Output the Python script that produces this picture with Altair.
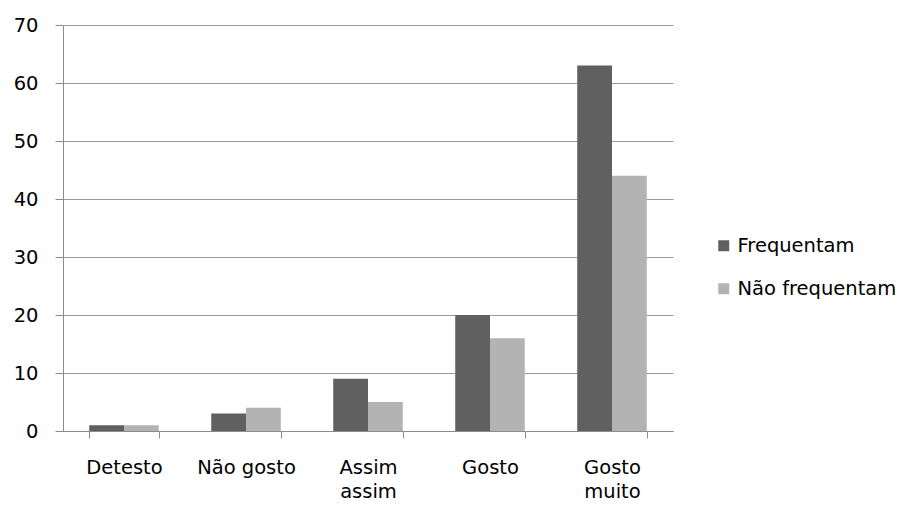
import altair as alt
import pandas as pd

categories = ["Detesto", "Não gosto", "Assim assim", "Gosto", "Gosto muito"]
series = ["Frequentam", "Não frequentam"]
frequentam = [1, 3, 9, 20, 63]
nao_frequentam = [1, 4, 5, 16, 44]

rows = []
for c, a, b in zip(categories, frequentam, nao_frequentam):
    rows.append({"cat": c, "serie": series[0], "v": a})
    rows.append({"cat": c, "serie": series[1], "v": b})
df = pd.DataFrame(rows)

FONT = "DejaVu Sans"

chart = alt.Chart(df).mark_bar().encode(
    x=alt.X("cat:N", sort=categories, title=None,
            scale=alt.Scale(paddingInner=0.43, paddingOuter=0.215),
            axis=alt.Axis(labelAngle=0, tickBand="extent", tickSize=7,
                          labelPadding=20, labelFontSize=19.5, labelLineHeight=24,
                          labelColor="#000000", labelFont=FONT,
                          domainColor="#8c8c8c", tickColor="#8c8c8c",
                          labelBaseline="top",
                          labelExpr="datum.value == 'Assim assim' ? ['Assim','assim'] : datum.value == 'Gosto muito' ? ['Gosto','muito'] : datum.value")),
    xOffset=alt.XOffset("serie:N", sort=series),
    y=alt.Y("v:Q", title=None,
            scale=alt.Scale(domain=[0, 70], nice=False),
            axis=alt.Axis(values=[0, 10, 20, 30, 40, 50, 60, 70], tickSize=8,
                          labelPadding=17, labelFontSize=19.5, labelColor="#000000",
                          labelFont=FONT, domainColor="#8c8c8c", tickColor="#8c8c8c",
                          gridColor="#9a9a9a", grid=True)),
    color=alt.Color("serie:N", sort=series, title=None,
                    scale=alt.Scale(domain=series, range=["#606060", "#b3b3b3"]),
                    legend=alt.Legend(orient="none", legendX=651, legendY=211,
                                      symbolType="square", symbolSize=121,
                                      symbolStrokeWidth=0, labelFontSize=19.5,
                                      labelFont=FONT, labelColor="#000000",
                                      rowPadding=22, labelOffset=4)),
).properties(
    width=610, height=406,
    autosize=alt.AutoSizeParams(type="none"),
    padding={"left": 63, "top": 25, "right": 243, "bottom": 74},
).configure_view(stroke=None).configure_axis(domainWidth=1, tickWidth=1, gridWidth=1)

chart.save("out.html", embed_options={"renderer": "svg", "actions": False})
